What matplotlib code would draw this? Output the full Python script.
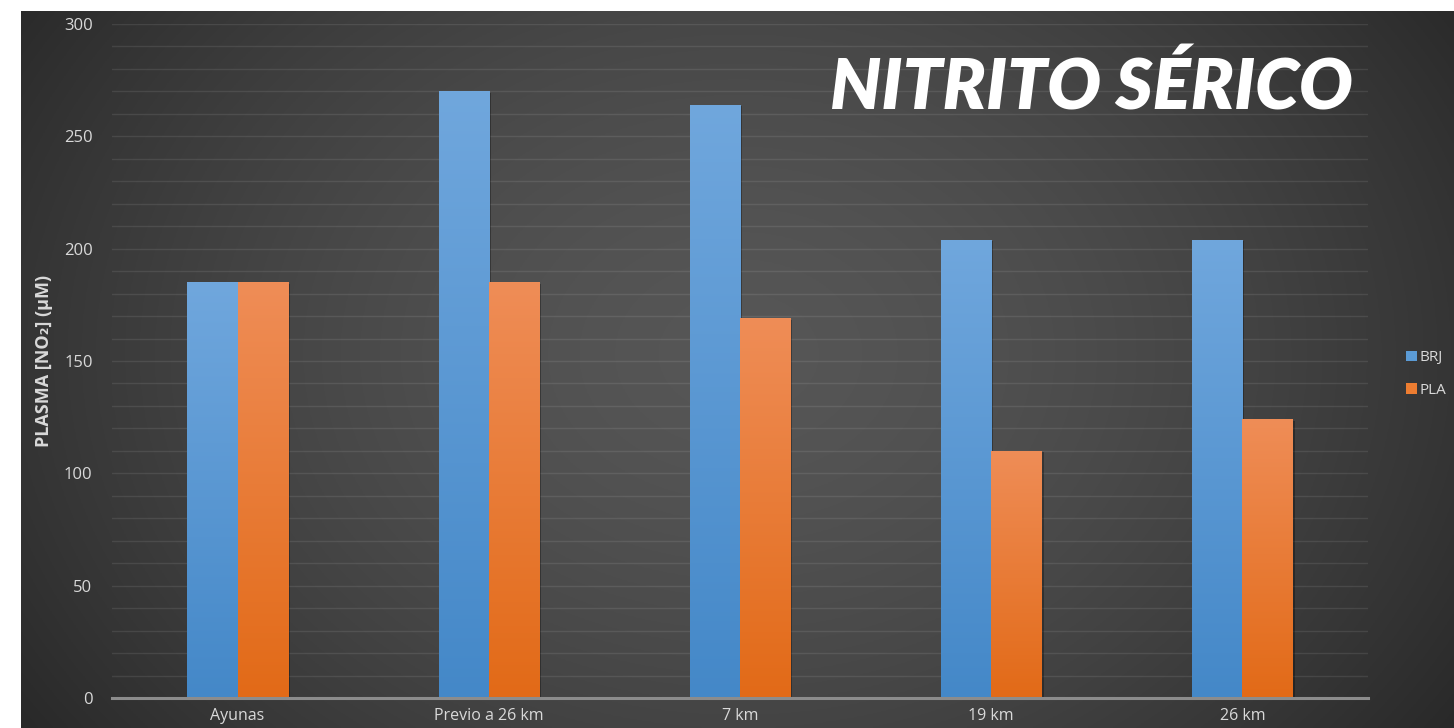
import numpy as np
import matplotlib
matplotlib.use("Agg")
import matplotlib.pyplot as plt
from matplotlib.patches import Patch
import matplotlib.patheffects as pe

categories = ["Ayunas", "Previo a 26 km", "7 km", "19 km", "26 km"]
brj = [185, 270, 264, 204, 204]
pla = [185, 185, 169, 110, 124]
series_names = ["BRJ", "PLA"]
yticks = [0, 50, 100, 150, 200, 250, 300]

W, H = 1454, 728
fig = plt.figure(figsize=(W / 100, H / 100), dpi=100)
fig.patch.set_facecolor("white")

# dark panel with radial gradient
bg = fig.add_axes([21 / W, 0, 1 - 21 / W, 717 / H], zorder=-2)
ny, nx = 300, 600
yy, xx = np.mgrid[0:ny, 0:nx]
cx, cy = nx * 0.50, ny * 0.52
r = np.sqrt(((xx - cx) / (nx * 0.62)) ** 2 + ((yy - cy) / (ny * 0.95)) ** 2)
r = np.clip(r, 0, 1)
c_center = np.array([0x56, 0x56, 0x56]) / 255
c_edge = np.array([0x27, 0x27, 0x27]) / 255
t = r ** 1.6
img = c_center[None, None, :] * (1 - t[..., None]) + c_edge[None, None, :] * t[..., None]
bg.imshow(img, aspect="auto", extent=[0, 1, 0, 1], origin="lower")
bg.set_axis_off()

ax = fig.add_axes([112 / W, 1 - 698 / H, (1368 - 112) / W, (698 - 24) / H])
ax.set_facecolor("none")

x = np.arange(len(categories))
w = 0.2
shadow = [pe.SimplePatchShadow(offset=(1.5, -1), alpha=0.3, shadow_rgbFace="black"), pe.Normal()]
bars_b = ax.bar(x - w / 2, brj, w, color="#5b9bd5", zorder=3, label=series_names[0],
                path_effects=shadow)
bars_p = ax.bar(x + w / 2, pla, w, color="#ed7d31", zorder=3, label=series_names[1],
                path_effects=shadow)

def grad_fill(bars, top, bottom):
    top = np.array(matplotlib.colors.to_rgb(top))
    bottom = np.array(matplotlib.colors.to_rgb(bottom))
    g = np.linspace(0, 1, 256)[:, None]
    im = bottom[None, :] * (1 - g) + top[None, :] * g
    im = im[:, None, :]
    for b in bars:
        x0 = b.get_x()
        x1 = x0 + b.get_width()
        h = b.get_height()
        i = ax.imshow(im, extent=[x0, x1, 0, h], origin="lower", aspect="auto", zorder=4)
        i.set_clip_path(b)

grad_fill(bars_b, "#70a7dd", "#4488c8")
grad_fill(bars_p, "#ef8d57", "#e26a17")

ax.set_xlim(-0.5, len(categories) - 0.5)
ax.set_ylim(0, 300)
ax.set_yticks(yticks)
ax.set_yticks(np.arange(0, 301, 10), minor=True)
ax.grid(which="both", axis="y", color="white", alpha=0.09, linewidth=1.0, zorder=0)
ax.set_axisbelow(True)
for s in ["top", "right", "left"]:
    ax.spines[s].set_visible(False)
ax.spines["bottom"].set_color("#8c8c8c")
ax.spines["bottom"].set_linewidth(2.2)
ax.spines["bottom"].set_zorder(5)

font = ["Open Sans", "DejaVu Sans"]
ax.set_xticks(x)
ax.set_xticklabels(categories, fontsize=11.5, color="#d9d9d9", family=font)
ax.tick_params(axis="x", length=0, pad=7)
ax.tick_params(axis="y", which="both", length=0, pad=14, labelsize=12, labelcolor="#d9d9d9")
for lab in ax.get_yticklabels():
    lab.set_family(font)

ax.set_ylabel("PLASMA [NO₂] (μM)", fontsize=13, fontweight="bold", color="#d9d9d9",
              family=font, labelpad=8)

handles = [Patch(facecolor="#5b9bd5"), Patch(facecolor="#ed7d31")]
leg = fig.legend(handles, series_names, loc="center left", bbox_to_anchor=(1406 / W, 1 - 374 / H),
                 frameon=False, handlelength=0.7, handleheight=0.7, handletextpad=0.2,
                 borderpad=0, borderaxespad=0, labelspacing=1.15,
                 prop={"family": font, "size": 11})
for txt in leg.get_texts():
    txt.set_color("#d9d9d9")

fig.text(1091 / W, 1 - 88 / H, "NITRITO SÉRICO", fontsize=51, fontweight="heavy",
         fontstyle="italic", family=["Lato", "DejaVu Sans"], color="white",
         ha="center", va="center")

fig.savefig("out.png", dpi=100, facecolor=fig.get_facecolor())
